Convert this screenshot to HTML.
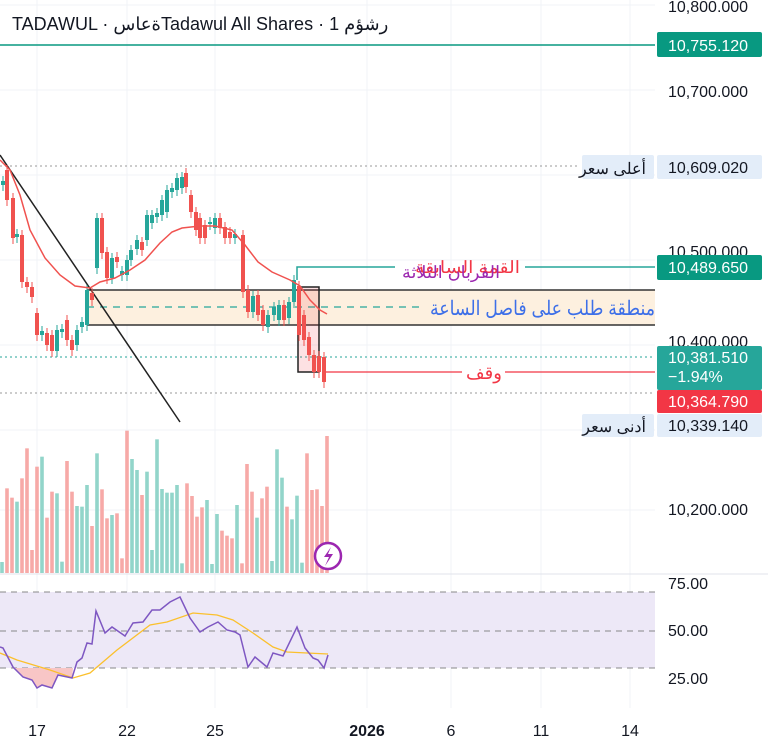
<!DOCTYPE html>
<html><head><meta charset="utf-8"><style>
body{margin:0;background:#fff;}
svg{display:block;font-family:"Liberation Sans","Noto Sans CJK SC",sans-serif;}
</style></head><body>
<svg id="s" width="768" height="748" viewBox="0 0 768 748" xmlns="http://www.w3.org/2000/svg">
<rect width="768" height="748" fill="#fff"/>
<g stroke="#f0f3f7" stroke-width="1">
<line x1="37" y1="0" x2="37" y2="708"/><line x1="127" y1="0" x2="127" y2="708"/><line x1="215" y1="0" x2="215" y2="708"/><line x1="367" y1="0" x2="367" y2="708"/><line x1="451" y1="0" x2="451" y2="708"/><line x1="541" y1="0" x2="541" y2="708"/><line x1="630" y1="0" x2="630" y2="708"/>
<line x1="0" y1="5" x2="655" y2="5"/><line x1="0" y1="90" x2="655" y2="90"/><line x1="0" y1="175" x2="655" y2="175"/><line x1="0" y1="260" x2="655" y2="260"/><line x1="0" y1="345" x2="655" y2="345"/><line x1="0" y1="430" x2="655" y2="430"/><line x1="0" y1="510" x2="655" y2="510"/>
</g>
<line x1="0" y1="574" x2="768" y2="574" stroke="#e0e3eb"/>
<line x1="0" y1="45" x2="655" y2="45" stroke="#089981" stroke-width="1.5"/>
<line x1="0" y1="166" x2="580" y2="166" stroke="#999" stroke-dasharray="2,3"/>
<line x1="0" y1="357" x2="655" y2="357" stroke="#26a69a" stroke-dasharray="2,3"/>
<line x1="0" y1="393" x2="655" y2="393" stroke="#999" stroke-dasharray="2,3"/>
<rect x="87" y="290" width="568" height="35" fill="#fdf0df"/>
<line x1="87" y1="290" x2="655" y2="290" stroke="#333" stroke-width="1.5"/>
<line x1="87" y1="325" x2="655" y2="325" stroke="#333" stroke-width="1.5"/>
<line x1="87" y1="290" x2="87" y2="325" stroke="#333" stroke-width="1.5"/>
<line x1="87" y1="307" x2="420" y2="307" stroke="#26a69a" stroke-width="1.3" stroke-dasharray="7,6"/>
<text x="655" y="315" text-anchor="end" font-size="20" fill="#3d6fe8" textLength="225" lengthAdjust="spacingAndGlyphs">منطقة طلب على فاصل الساعة</text>
<polyline points="297,280 297,267 395,267" fill="none" stroke="#26a69a" stroke-width="1.5"/>
<line x1="525" y1="267" x2="655" y2="267" stroke="#26a69a" stroke-width="1.5"/>
<text x="520" y="273" text-anchor="end" font-size="17" fill="#f23645" textLength="105" lengthAdjust="spacingAndGlyphs">القمة السابقة</text>
<text x="500" y="278" text-anchor="end" font-size="17" fill="#9c27b0" textLength="98" lengthAdjust="spacingAndGlyphs">القربان الثلاثة</text>
<rect x="298" y="287" width="21" height="85" fill="rgba(242,54,69,0.15)" stroke="#222" stroke-width="1.5"/>
<line x1="325" y1="372" x2="462" y2="372" stroke="#f23645" stroke-width="1.3"/>
<line x1="505" y1="372" x2="655" y2="372" stroke="#f23645" stroke-width="1.3"/>
<text x="484" y="379" text-anchor="middle" font-size="18" fill="#f23645">وقف</text>
<line x1="0" y1="155" x2="180" y2="422" stroke="#222" stroke-width="1.5"/>
<g id="candles"></g>
<polyline fill="none" stroke="#f0524f" stroke-width="1.5" points="0,160 10,170 20,195 30,230 45,258 60,275 75,286 90,288 100,282 115,278 130,270 145,260 160,243 172,232 182,228 200,226 215,226 232,230 245,245 258,262 272,272 290,280 300,286 310,300 320,310 327,314"/>
<g id="vol"></g>
<circle cx="328" cy="556" r="13" fill="#fff" stroke="#9c27b0" stroke-width="2.5"/>
<path d="M331,547 L324,557 L329,557 L325,566 L333,554 L328,554 Z" fill="#9c27b0"/>
<rect x="0" y="592" width="655" height="76" fill="#ede8f7"/>
<g stroke="#888" stroke-dasharray="6,5"><line x1="0" y1="592" x2="655" y2="592"/><line x1="0" y1="631" x2="655" y2="631"/><line x1="0" y1="668" x2="655" y2="668"/></g>
<polygon points="13,668 13,667 23,677 32,680 37,688 42,685 52,688 58,675 72,678 73,668" fill="#f8c6c6"/>
<polyline fill="none" stroke="#fbc02d" stroke-width="1.3" points="0,653 17,660 50,670 73,678 90,673 117,650 150,625 167,622 193,613 217,615 233,620 253,633 273,647 287,652 307,653 328,654"/>
<polyline fill="none" stroke="#7e57c2" stroke-width="1.5" points="0,647 3,648 13,667 23,677 32,680 37,688 42,685 52,688 58,675 72,678 77,662 82,658 87,643 92,644 96,611 105,633 112,627 125,636 133,623 143,622 152,610 160,610 170,602 180,597 190,618 200,632 208,627 218,622 227,630 235,632 240,635 248,667 255,657 267,667 273,653 283,656 297,627 305,648 313,658 318,660 324,668 328,655"/>
<g font-size="16" fill="#131722">
<text x="668" y="12">10,800.000</text>
<text x="668" y="97">10,700.000</text>
<text x="668" y="257">10,500.000</text>
<text x="668" y="347">10,400.000</text>
<text x="668" y="515">10,200.000</text>
<text x="668" y="589">75.00</text>
<text x="668" y="636">50.00</text>
<text x="668" y="684">25.00</text>
</g>
<rect x="657" y="32" width="105" height="25" rx="2" fill="#089981"/>
<text x="668" y="51" font-size="16" fill="#fff">10,755.120</text>
<rect x="582" y="155" width="72" height="24" rx="2" fill="#e3edf9"/>
<text x="646" y="174" text-anchor="end" font-size="16" fill="#131722">أعلى سعر</text>
<rect x="657" y="155" width="105" height="24" rx="2" fill="#e3edf9"/>
<text x="668" y="173" font-size="16" fill="#131722">10,609.020</text>
<rect x="657" y="255" width="105" height="25" rx="2" fill="#089981"/>
<text x="668" y="273" font-size="16" fill="#fff">10,489.650</text>
<rect x="657" y="346" width="105" height="44" rx="2" fill="#26a69a"/>
<text x="668" y="363" font-size="16" fill="#fff">10,381.510</text>
<text x="668" y="382" font-size="16" fill="#fff">−1.94%</text>
<rect x="657" y="390" width="105" height="23" rx="2" fill="#f23645"/>
<text x="668" y="407" font-size="16" fill="#fff">10,364.790</text>
<rect x="582" y="414" width="72" height="23" rx="2" fill="#e3edf9"/>
<text x="646" y="432" text-anchor="end" font-size="16" fill="#131722">أدنى سعر</text>
<rect x="657" y="414" width="105" height="23" rx="2" fill="#e3edf9"/>
<text x="668" y="431" font-size="16" fill="#131722">10,339.140</text>
<g font-size="16" fill="#131722" text-anchor="middle">
<text x="37" y="736">17</text><text x="127" y="736">22</text><text x="215" y="736">25</text>
<text x="367" y="736" font-weight="bold">2026</text><text x="451" y="736">6</text><text x="541" y="736">11</text><text x="630" y="736">14</text>
</g>
<text x="12" y="30" font-size="18" fill="#131722">TADAWUL · ةعاسTadawul All Shares · 1 رشؤم</text>
</svg>
<script>
var C=[[3,181,185,'g'],[7,170,200,'r'],[13,198,238,'r'],[17,234,237,'g'],[22,235,282,'r'],[27,282,287,'r'],[32,287,297,'r'],[37,313,335,'r'],[42,331,335,'g'],[47,333,345,'r'],[52,335,351,'r'],[57,330,351,'g'],[62,329,332,'g'],[67,320,340,'r'],[72,340,350,'r'],[77,330,345,'g'],[82,322,327,'g'],[87,290,325,'g'],[92,293,300,'r'],[97,218,268,'g'],[102,218,253,'r'],[107,252,278,'r'],[112,258,278,'g'],[117,257,262,'r'],[122,271,275,'g'],[127,260,275,'g'],[131,250,260,'g'],[137,240,249,'g'],[142,242,250,'r'],[147,215,240,'g'],[152,215,223,'g'],[157,213,217,'g'],[162,200,215,'g'],[167,190,212,'g'],[172,188,192,'g'],[177,178,190,'g'],[182,177,188,'g'],[186,173,187,'r'],[191,195,212,'r'],[196,212,230,'r'],[200,218,238,'r'],[205,225,238,'r'],[210,222,224,'g'],[215,218,228,'g'],[220,218,228,'r'],[225,227,238,'r'],[230,232,238,'r'],[235,234,238,'g'],[243,235,292,'r'],[248,290,312,'r'],[253,296,312,'g'],[258,295,315,'r'],[263,310,325,'r'],[268,315,327,'g'],[274,307,315,'g'],[279,305,320,'g'],[284,305,320,'r'],[289,302,318,'g'],[294,280,302,'g'],[299,286,335,'r'],[304,315,340,'r'],[309,337,355,'r'],[314,355,372,'r'],[319,356,372,'r'],[324,357,382,'r']];
var h='';C.forEach(function(c){var col=c[3]=='g'?'#26a69a':'#f0524f';h+='<line x1="'+c[0]+'" y1="'+(c[1]-5)+'" x2="'+c[0]+'" y2="'+(c[2]+6)+'" stroke="'+col+'" stroke-width="1"/><rect x="'+(c[0]-2)+'" y="'+c[1]+'" width="4" height="'+Math.max(1.5,c[2]-c[1])+'" fill="'+col+'"/>';});
document.getElementById('candles').innerHTML=h;
var V=[[426,'g'],[205,'r'],[233,'r'],[245,'g'],[175,'r'],[85,'r'],[390,'r'],[140,'r'],[110,'g'],[293,'r'],[215,'r'],[220,'g'],[425,'g'],[123,'r'],[215,'r'],[258,'g'],[260,'g'],[195,'g'],[318,'r'],[100,'g'],[208,'r'],[295,'r'],[285,'g'],[280,'r'],[415,'r'],[32,'r'],[117,'g'],[150,'g'],[225,'r'],[155,'g'],[390,'g'],[58,'g'],[207,'g'],[218,'g'],[218,'g'],[195,'g'],[430,'g'],[190,'r'],[228,'r'],[290,'r'],[262,'r'],[240,'g'],[432,'g'],[282,'g'],[332,'r'],[347,'r'],[355,'r'],[255,'g'],[430,'r'],[132,'r'],[215,'r'],[293,'g'],[235,'r'],[200,'r'],[423,'g'],[88,'g'],[173,'g'],[260,'r'],[298,'g'],[227,'g'],[428,'g'],[100,'r'],[210,'r'],[208,'r'],[258,'r'],[48,'r']];
var v='';V.forEach(function(b,i){var x=2+i*5;var t=420+b[0]/3;v+='<rect x="'+(x-1.8)+'" y="'+t+'" width="3.6" height="'+(573-t)+'" fill="'+(b[1]=='g'?'#92d5ca':'#f7a9a7')+'"/>';});
document.getElementById('vol').innerHTML=v;
</script>
</body></html>
